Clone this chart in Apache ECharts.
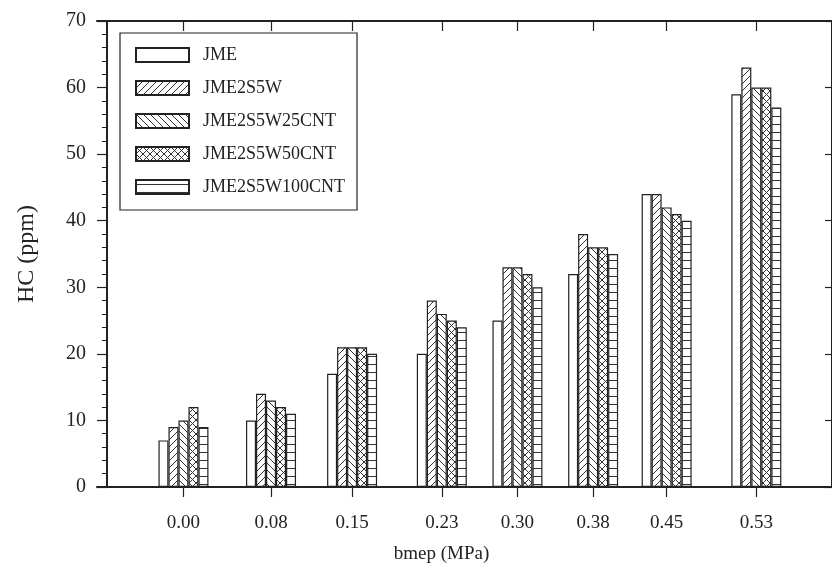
<!DOCTYPE html>
<html>
<head>
<meta charset="utf-8">
<script src="https://cdn.jsdelivr.net/npm/echarts@6/dist/echarts.min.js"></script>
<style>
  html, body { margin: 0; padding: 0; background: #fff; }
  #chart { width: 832px; height: 579px; }
</style>
</head>
<body>
<div id="chart"></div>
<script>
// Brake mean effective pressure of each load step (MPa) and the text under its tick
const bmep = [0, 0.081, 0.156, 0.239, 0.309, 0.379, 0.447, 0.530];
const bmepLabels = ['0.00', '0.08', '0.15', '0.23', '0.30', '0.38', '0.45', '0.53'];

// HC emission (ppm) per fuel blend
const seriesNames = ['JME', 'JME2S5W', 'JME2S5W25CNT', 'JME2S5W50CNT', 'JME2S5W100CNT'];
const hcJME = [7, 10, 17, 20, 25, 32, 44, 59];
const hcJME2S5W = [9, 14, 21, 28, 33, 38, 44, 63];
const hcJME2S5W25CNT = [10, 13, 21, 26, 33, 36, 42, 60];
const hcJME2S5W50CNT = [12, 12, 21, 25, 32, 36, 41, 60];
const hcJME2S5W100CNT = [9, 11, 20, 24, 30, 35, 40, 57];
const hcValues = [hcJME, hcJME2S5W, hcJME2S5W25CNT, hcJME2S5W50CNT, hcJME2S5W100CNT];

const INK = '#222';
const FONT = '"Liberation Serif", "Times New Roman", serif';
const FS = 19;

// Hatch tiles used as bar fills
function hatch(kind) {
  const s = kind === 'horizontal' ? 8 : 7;
  const c = document.createElement('canvas');
  c.width = s; c.height = s;
  const g = c.getContext('2d');
  g.fillStyle = '#fff';
  g.fillRect(0, 0, s, s);
  g.strokeStyle = '#333';
  g.lineWidth = 1;
  g.beginPath();
  if (kind === 'forward' || kind === 'cross') {
    for (let k = -1; k <= 1; k++) { g.moveTo(k * s, s); g.lineTo(k * s + s, 0); }
  }
  if (kind === 'back' || kind === 'cross') {
    for (let k = -1; k <= 1; k++) { g.moveTo(k * s, 0); g.lineTo(k * s + s, s); }
  }
  if (kind === 'horizontal') {
    g.moveTo(0, s / 2 + 0.5); g.lineTo(s, s / 2 + 0.5);
  }
  g.stroke();
  return { image: c, repeat: 'repeat' };
}

const fills = ['#fff', hatch('forward'), hatch('back'), hatch('cross'), hatch('horizontal')];

const series = seriesNames.map((name, i) => ({
  name: name,
  type: 'bar',
  xAxisIndex: 0,
  yAxisIndex: 0,
  barWidth: 10,
  barGap: '0%',
  itemStyle: { color: fills[i], borderColor: INK, borderWidth: 1.2 },
  data: bmep.map((x, j) => [x, hcValues[i][j]])
}));

const labelFor = v => {
  const idx = bmep.findIndex(b => Math.abs(b - v) < 1e-9);
  return idx >= 0 ? bmepLabels[idx] : '';
};

const chart = echarts.init(document.getElementById('chart'), null, { renderer: 'canvas' });
chart.setOption({
  animation: false,
  backgroundColor: '#fff',
  textStyle: { fontFamily: FONT, color: INK },
  grid: { left: 97, right: -3, top: 21, bottom: 92 },
  legend: {
    orient: 'vertical',
    left: 120,
    top: 33,
    padding: [13, 12, 14, 15],
    itemWidth: 53,
    itemHeight: 14,
    itemGap: 15,
    borderColor: INK,
    borderWidth: 1.2,
    backgroundColor: '#fff',
    icon: 'rect',
    textStyle: { fontFamily: FONT, fontSize: 18, color: INK, lineHeight: 18, padding: [0, 0, 0, 9] },
    data: seriesNames
  },
  xAxis: [
    {
      type: 'value',
      position: 'bottom',
      min: -0.08,
      max: 0.6,
      name: 'bmep (MPa)',
      nameLocation: 'middle',
      nameGap: 58,
      nameTextStyle: { fontFamily: FONT, fontSize: FS, color: INK, padding: [0, 46, 0, 0] },
      axisLine: { show: true, onZero: false, lineStyle: { color: INK, width: 2 } },
      axisTick: { show: true, inside: false, length: 10, customValues: bmep, lineStyle: { color: INK, width: 1.2 } },
      axisLabel: { customValues: bmep, formatter: labelFor, margin: 27, fontFamily: FONT, fontSize: FS, color: INK },
      splitLine: { show: false }
    },
    {
      type: 'value',
      position: 'top',
      min: -0.08,
      max: 0.6,
      axisLine: { show: true, onZero: false, lineStyle: { color: INK, width: 2 } },
      axisTick: { show: true, inside: true, length: 10, customValues: bmep, lineStyle: { color: INK, width: 1.2 } },
      axisLabel: { show: false },
      splitLine: { show: false }
    }
  ],
  yAxis: [
    {
      type: 'value',
      position: 'left',
      offset: -10,
      min: 0,
      max: 70,
      interval: 10,
      name: 'HC (ppm)',
      nameLocation: 'middle',
      nameGap: 68,
      nameTextStyle: { fontFamily: FONT, fontSize: 24, color: INK },
      axisLine: { show: true, onZero: false, lineStyle: { color: INK, width: 2 } },
      axisTick: { show: true, inside: false, length: 10, lineStyle: { color: INK, width: 1.2 } },
      minorTick: { show: true, splitNumber: 5, length: 5, lineStyle: { color: INK, width: 1 } },
      axisLabel: { margin: 21, fontFamily: FONT, fontSize: 20, color: INK },
      splitLine: { show: false }
    },
    {
      type: 'value',
      position: 'right',
      min: 0,
      max: 70,
      interval: 10,
      axisLine: { show: true, onZero: false, lineStyle: { color: INK, width: 2 } },
      axisTick: { show: true, inside: true, length: 7, lineStyle: { color: INK, width: 1.2 } },
      axisLabel: { show: false },
      splitLine: { show: false }
    }
  ],
  series: series
});
</script>
</body>
</html>
